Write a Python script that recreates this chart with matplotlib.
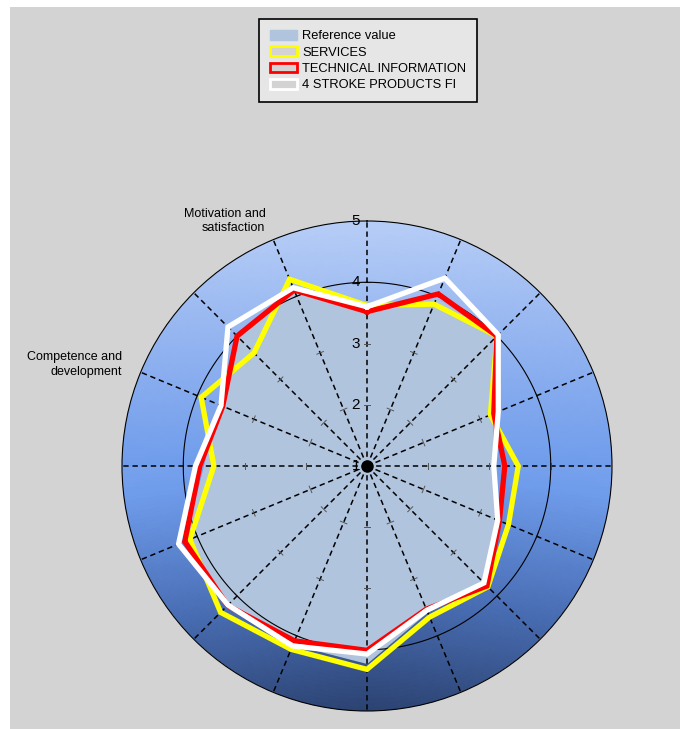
import numpy as np
import matplotlib
matplotlib.use("Agg")
import matplotlib.pyplot as plt
from matplotlib.colors import LinearSegmentedColormap
from matplotlib.patches import Patch, Rectangle

plt.rcParams['font.family'] = ['Liberation Sans', 'DejaVu Sans']

# 16 spokes, clockwise from the top
n_spokes = 16
reference = [3.55, 3.95, 3.98, 3.22, 3.05, 3.30, 3.72, 3.58,
             4.22, 4.15, 4.25, 4.20, 3.65, 3.60, 3.95, 4.15]
services = [3.62, 3.86, 4.00, 3.18, 3.47, 3.50, 3.79, 3.67,
            4.32, 4.24, 4.38, 4.13, 3.50, 3.93, 3.61, 4.30]
technical = [3.52, 4.04, 4.00, 3.24, 3.25, 3.34, 3.77, 3.53,
             4.01, 4.09, 4.22, 4.22, 3.73, 3.55, 4.00, 4.11]
four_stroke = [3.60, 4.32, 4.03, 3.32, 3.07, 3.31, 3.70, 3.55,
               4.07, 4.18, 4.21, 4.33, 3.80, 3.58, 4.21, 4.15]
series_names = ["SERVICES", "TECHNICAL INFORMATION", "4 STROKE PRODUCTS FI"]
series_colors = ["#ffff00", "#ff0000", "#ffffff"]
r_labels = [1, 2, 3, 4, 5]
cat_labels = {15: "Motivation and\nsatisfaction", 13: "Competence and\ndevelopment"}

W, H = 685, 729
fig = plt.figure(figsize=(W / 100, H / 100), dpi=100)
fig.patch.set_facecolor("white")
fig.add_artist(Rectangle((10 / W, 0), 670 / W, 1 - 7 / H, transform=fig.transFigure,
                         facecolor="#d3d3d3", edgecolor="none", zorder=-10))

cx, cy, rad = 367, 466, 245
ax = fig.add_axes([(cx - rad) / W, (H - cy - rad) / H, 2 * rad / W, 2 * rad / H],
                  projection="polar")
ax.set_theta_zero_location("N")
ax.set_theta_direction(-1)
ax.set_ylim(1, 5)
ax.set_xticks([])
ax.set_yticks([])
ax.grid(False)
ax.patch.set_alpha(0)
ax.spines["polar"].set_linewidth(0.8)

# gradient disk
cmap = LinearSegmentedColormap.from_list("bg", ["#2c4372", "#4a6fb6", "#6f9ceb", "#92b3f0", "#b6cdf6"])
tg = np.linspace(0, 2 * np.pi, 361)
rg = np.linspace(1, 5, 60)
T, R = np.meshgrid(tg, rg)
Tc = 0.5 * (T[:-1, :-1] + T[1:, 1:])
Rc = 0.5 * (R[:-1, :-1] + R[1:, 1:])
yy = (Rc - 1) * np.cos(Tc) / 4
xx = (Rc - 1) * np.sin(Tc) / 4
C = (yy + 1) / 2 + 0.06 * np.abs(xx) * (yy < 0)
ax.pcolormesh(T, R, C, cmap=cmap, vmin=0, vmax=1, shading="flat", rasterized=True, zorder=0)

angles = np.arange(n_spokes) * 2 * np.pi / n_spokes
closed = np.append(angles, angles[0])

ax.fill(closed, reference + reference[:1], color="#b0c4de", zorder=1)

# spokes, ticks and the ring at 4
for a in angles:
    ax.plot([a, a], [1, 5], color="black", lw=1.1, ls=(0, (3.5, 2.5)), zorder=2)
    for v in [2, 3, 4]:
        d = 3.5 / (61.25 * (v - 1))
        ax.plot([a - d, a + d], [v, v], color="#555555", lw=0.7, zorder=2)
tf = np.linspace(0, 2 * np.pi, 400)
ax.plot(tf, np.full_like(tf, 4), color="black", lw=0.8, zorder=2)

for vals, col in zip([services, technical, four_stroke], series_colors):
    ax.plot(closed, vals + vals[:1], color=col, lw=3.8, solid_joinstyle="miter", zorder=3)

ax.plot(0, 1, "o", color="black", ms=8, zorder=5)

for v in r_labels:
    ax.annotate(str(v), xy=(0, v), xytext=(-5, 0), textcoords="offset points",
                ha="right", va="center", fontsize=11, zorder=4)

for k, lab in cat_labels.items():
    ax.text(angles[k], 5.33, lab, ha="right", va="center", fontsize=9, linespacing=1.3)

handles = [Patch(facecolor="#b0c4de", edgecolor="#b0c4de")]
handles += [Patch(facecolor="#d3d3d3", edgecolor=c, lw=2) for c in series_colors]
leg = fig.legend(handles, ["Reference value"] + series_names, loc="upper center",
                 bbox_to_anchor=(368 / W, 1 - 19 / H), fontsize=9.3, frameon=True,
                 fancybox=False, framealpha=1, facecolor="#e6e6e6", edgecolor="black",
                 handlelength=2.1, handleheight=0.8, labelspacing=0.3, borderpad=0.85,
                 handletextpad=0.45, borderaxespad=0)
leg.get_frame().set_linewidth(1.2)

fig.savefig("out.png", dpi=100)
